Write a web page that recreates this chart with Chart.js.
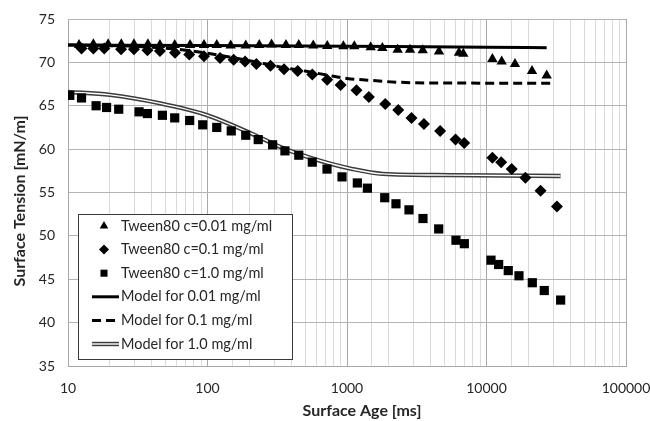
<!DOCTYPE html>
<html>
<head>
<meta charset="utf-8">
<script src="https://cdn.jsdelivr.net/npm/chart.js@4.4.1/dist/chart.umd.min.js"></script>
<style>
  html, body { margin: 0; padding: 0; background: #fff; }
  #wrap { width: 650px; height: 421px; }
</style>
</head>
<body>
<div id="wrap"><canvas id="tensionChart" width="650" height="421"></canvas></div>
<script>
// Measured points (surface age in ms, surface tension in mN/m)
const ageLow = [12.0, 15.2, 19.4, 24.1, 29.7, 37.4, 45.6, 58.2, 75, 94.4, 116.5, 146.6, 188,
  235, 288, 365, 451, 573, 722, 942, 1128, 1479, 1792, 2307, 2829, 3491, 4564,
  6350, 6820, 11020, 12850, 16000, 21200, 27000];
const tensionLow = [72.0, 72.1, 72.1, 72.1, 72.1, 72.1, 72.0, 72.0, 72.0, 72.0, 72.0, 71.95, 71.95,
  72.0, 72.05, 72.0, 72.0, 71.95, 71.9, 71.85, 71.85, 71.75, 71.65, 71.45, 71.45, 71.4, 71.25,
  71.1, 71.0, 70.4, 70.1, 69.8, 69.0, 68.5];

const ageMid = [12.5, 15.2, 18.2, 24.0, 29.7, 37.1, 45.6, 58.5, 74, 94.4, 123, 154, 186,
  224, 283, 354, 443, 564, 721, 900, 1170, 1435, 1880, 2330, 2900, 3560, 4650,
  6000, 6920, 11020, 12740, 15150, 19000, 24400, 32000];
const tensionMid = [71.6, 71.6, 71.6, 71.5, 71.5, 71.4, 71.3, 71.1, 70.9, 70.7, 70.5, 70.3, 70.1,
  69.8, 69.6, 69.2, 69.0, 68.6, 68.0, 67.4, 66.8, 66.0, 65.2, 64.5, 63.6, 62.9, 62.1,
  61.1, 60.7, 59.0, 58.5, 57.7, 56.7, 55.2, 53.4];

const ageHigh = [10.3, 12.5, 15.9, 18.9, 23.1, 32.3, 37.1, 47.5, 58.2, 74.5, 92.4, 116.5, 148,
  188, 231, 293, 359, 451, 564, 719, 921, 1186, 1400, 1864, 2244, 2782, 3505, 4543,
  6040, 6935, 10770, 12220, 14320, 17090, 21300, 25950, 34000];
const tensionHigh = [66.2, 65.9, 65.0, 64.8, 64.6, 64.3, 64.1, 63.9, 63.6, 63.3, 62.8, 62.5, 62.1,
  61.6, 61.1, 60.5, 59.8, 59.3, 58.5, 57.7, 56.8, 56.1, 55.5, 54.4, 53.7, 53.0, 52.0, 50.8,
  49.5, 49.1, 47.2, 46.7, 46.0, 45.4, 44.6, 43.7, 42.6];

// Model curves
const modelLowAge = [10, 100, 1000, 10000, 27000];
const modelLow = [72.0, 71.95, 71.85, 71.75, 71.7];
const modelMidAge = [10, 20, 40, 70, 100, 140, 200, 350, 500, 800, 1000, 1400, 2400, 5000, 29000];
const modelMid = [72.0, 71.95, 71.75, 71.4, 71.05, 70.65, 70.2, 69.4, 69.0, 68.4, 68.15, 67.95, 67.7, 67.62, 67.6];
const modelHighAge = [10, 20, 45, 100, 200, 350, 600, 1100, 1800, 5500, 34000];
const modelHigh = [66.6, 66.25, 65.3, 63.9, 61.9, 60.1, 58.8, 57.7, 57.15, 57.0, 56.9];

const seriesNames = ["Tween80 c=0.01 mg/ml", "Tween80 c=0.1 mg/ml", "Tween80 c=1.0 mg/ml",
  "Model for 0.01 mg/ml", "Model for 0.1 mg/ml", "Model for 1.0 mg/ml"];
const xTickLabels = [10, 100, 1000, 10000, 100000];
const yMin = 35, yMax = 75, yStep = 5;
const xTitle = "Surface Age [ms]";
const yTitle = "Surface Tension [mN/m]";

const fontFamily = "Lato, 'Open Sans', sans-serif";
const textColor = "#262626";

const toPoints = (xs, ys) => xs.map((x, i) => ({ x: x, y: ys[i] }));
const isDecade = (v) => Math.abs(Math.log10(v) - Math.round(Math.log10(v))) < 1e-9;

// Legend drawn inside the plot, in a framed box
const insideLegend = {
  id: "insideLegend",
  afterDraw(chart) {
    const ctx = chart.ctx;
    const box = { left: 78, top: 214, width: 214, height: 145 };
    ctx.save();
    ctx.fillStyle = "#fff";
    ctx.fillRect(box.left, box.top, box.width, box.height);
    ctx.strokeStyle = "#3a3a3a";
    ctx.lineWidth = 1;
    ctx.strokeRect(box.left + 0.5, box.top + 0.5, box.width, box.height);

    const items = chart.data.datasets.filter((d) => !d.legendSkip);
    ctx.font = "14.5px " + fontFamily;
    ctx.textBaseline = "middle";
    ctx.textAlign = "left";
    items.forEach((ds, i) => {
      const y = 226 + i * 23.6;
      if (ds.showLine) {
        ctx.save();
        ctx.strokeStyle = ds.borderColor;
        ctx.lineWidth = ds.borderWidth;
        ctx.setLineDash(ds.borderDash || []);
        ctx.beginPath();
        ctx.moveTo(92, y);
        ctx.lineTo(119, y);
        ctx.stroke();
        if (ds.innerColor) {
          ctx.strokeStyle = ds.innerColor;
          ctx.lineWidth = 1.4;
          ctx.beginPath();
          ctx.moveTo(92, y);
          ctx.lineTo(119, y);
          ctx.stroke();
        }
        ctx.restore();
      } else {
        ctx.fillStyle = "#000";
        Chart.helpers.drawPoint(ctx, { pointStyle: ds.pointStyle, radius: 5, rotation: 0, borderWidth: 0 }, 104, y);
      }
      ctx.fillStyle = textColor;
      ctx.fillText(ds.label, 121, y);
    });
    ctx.restore();
  }
};

// Axis titles
const axisTitles = {
  id: "axisTitles",
  afterDraw(chart) {
    const ctx = chart.ctx;
    ctx.save();
    ctx.fillStyle = textColor;
    ctx.font = "bold 16px " + fontFamily;
    ctx.textAlign = "center";
    ctx.textBaseline = "middle";
    ctx.fillText(xTitle, 362, 411);
    ctx.translate(20, 201);
    ctx.rotate(-Math.PI / 2);
    ctx.fillText(yTitle, 0, 0);
    ctx.restore();
  }
};

const ctx = document.getElementById("tensionChart").getContext("2d");
new Chart(ctx, {
  type: "scatter",
  data: {
    datasets: [
      {
        label: seriesNames[0],
        data: toPoints(ageLow, tensionLow),
        pointStyle: "triangle",
        pointRadius: 6,
        backgroundColor: "#000",
        borderWidth: 0,
        order: 1,
      },
      {
        label: seriesNames[1],
        data: toPoints(ageMid, tensionMid),
        pointStyle: "rectRot",
        pointRadius: 6,
        backgroundColor: "#000",
        borderWidth: 0,
        order: 2,
      },
      {
        label: seriesNames[2],
        data: toPoints(ageHigh, tensionHigh),
        pointStyle: "rect",
        pointRadius: 6.5,
        backgroundColor: "#000",
        borderWidth: 0,
        order: 3,
      },
      {
        label: seriesNames[3],
        data: toPoints(modelLowAge, modelLow),
        showLine: true,
        pointRadius: 0,
        borderColor: "#000",
        borderWidth: 3,
        cubicInterpolationMode: "monotone",
        order: 10,
      },
      {
        label: seriesNames[4],
        data: toPoints(modelMidAge, modelMid),
        showLine: true,
        pointRadius: 0,
        borderColor: "#000",
        borderWidth: 3,
        borderDash: [9, 5],
        cubicInterpolationMode: "monotone",
        order: 11,
      },
      {
        label: seriesNames[5],
        data: toPoints(modelHighAge, modelHigh),
        showLine: true,
        pointRadius: 0,
        borderColor: "#3c3c3c",
        innerColor: "#fff",
        borderWidth: 4.4,
        cubicInterpolationMode: "monotone",
        order: 13,
      },
      {
        // white core of the double line
        label: seriesNames[5],
        legendSkip: true,
        data: toPoints(modelHighAge, modelHigh),
        showLine: true,
        pointRadius: 0,
        borderColor: "#fff",
        borderWidth: 1.4,
        cubicInterpolationMode: "monotone",
        order: 12,
      },
    ],
  },
  options: {
    responsive: false,
    animation: false,
    layout: { padding: { top: 19, right: 24, left: 0, bottom: 0 } },
    plugins: {
      legend: { display: false },
      tooltip: { enabled: false },
    },
    scales: {
      x: {
        type: "logarithmic",
        min: 10,
        max: 100000,
        afterFit: (scale) => {
          scale.height = 55;
          scale.paddingLeft = 0;
          scale.paddingRight = 0;
        },
        grid: {
          color: (c) => (c.tick && isDecade(c.tick.value) ? "#a8a8a8" : "#dadada"),
          drawTicks: false,
        },
        border: { color: "#a8a8a8" },
        ticks: {
          autoSkip: false,
          maxRotation: 0,
          padding: 14,
          color: textColor,
          font: { family: fontFamily, size: 14 },
          callback: (v) => (xTickLabels.includes(Math.round(v)) && isDecade(v) ? String(Math.round(v)) : ""),
        },
      },
      y: {
        type: "linear",
        min: yMin,
        max: yMax,
        afterFit: (scale) => {
          scale.width = 68;
          scale.paddingTop = 0;
          scale.paddingBottom = 0;
        },
        grid: { color: "#b4b4b4", drawTicks: false },
        border: { color: "#a8a8a8" },
        ticks: {
          stepSize: yStep,
          padding: 13,
          color: textColor,
          font: { family: fontFamily, size: 14 },
        },
      },
    },
  },
  plugins: [insideLegend, axisTitles],
});
</script>
</body>
</html>
